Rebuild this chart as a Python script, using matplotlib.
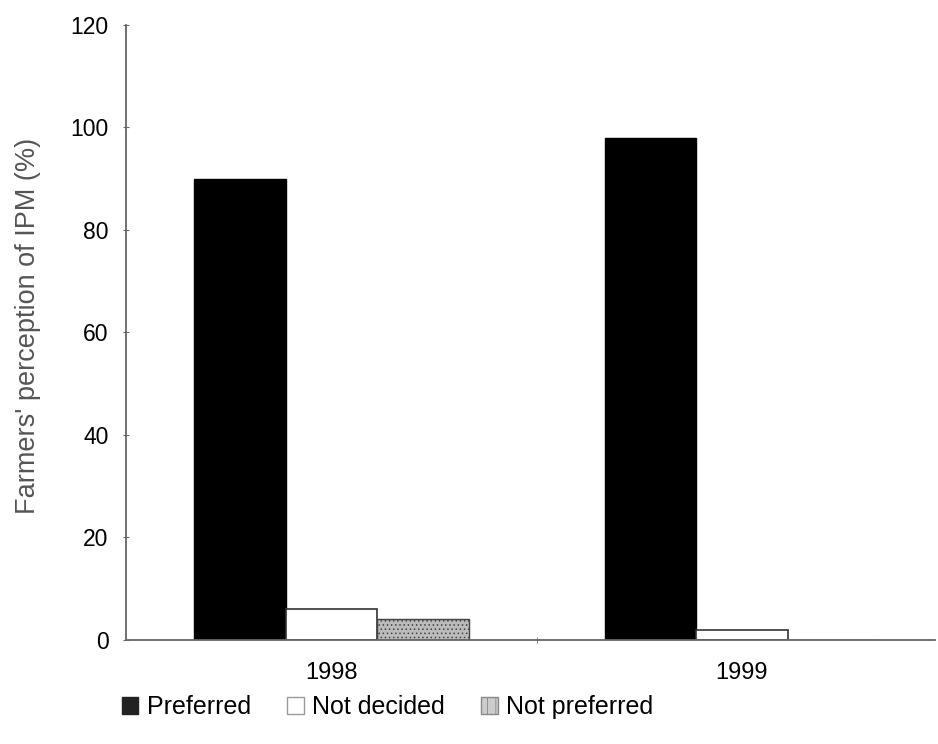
import matplotlib
matplotlib.use("Agg")
import matplotlib.pyplot as plt
import numpy as np
from matplotlib.patches import Patch

plt.rcParams['font.family'] = ['Liberation Sans', 'DejaVu Sans']
plt.rcParams['hatch.linewidth'] = 0.6

years = ['1998', '1999']
series = ['Preferred', 'Not decided', 'Not preferred']
preferred = [90, 98]
not_decided = [6, 2]
not_preferred = [4, 0]
yticks = [0, 20, 40, 60, 80, 100, 120]

fig = plt.figure(figsize=(9.38, 7.44), dpi=100)
ax = fig.add_axes([0.1343, 0.1398, 0.8625, 0.8266])

x = np.arange(len(years))
w = 0.223
styles = [
    dict(color='black', edgecolor='black'),
    dict(color='white', edgecolor='#333333', linewidth=1.2),
    dict(color='#bbbbbb', edgecolor='#444444', hatch='....', linewidth=1.0),
]
vals = [preferred, not_decided, not_preferred]
for i, (v, st) in enumerate(zip(vals, styles)):
    ax.bar(x + (i - 1) * w, v, width=w, **st)

ax.set_xlim(-0.5, 1.47)
ax.set_ylim(0, 120)
ax.set_yticks(yticks)
ax.set_xticks(x)
ax.set_xticklabels(years)
ax.set_xticks([0.5], minor=True)
ax.tick_params(axis='x', which='major', length=0, pad=16, labelsize=17)
ax.tick_params(axis='x', which='minor', length=5, direction='inout', color='#666666')
ax.tick_params(axis='y', length=5, direction='inout', color='#666666', labelsize=16.5, pad=10)
for s in ['top', 'right']:
    ax.spines[s].set_visible(False)
for s in ['left', 'bottom']:
    ax.spines[s].set_color('#666666')
    ax.spines[s].set_linewidth(1.3)

ax.set_ylabel("Farmers' perception of IPM (%)", fontsize=19.5, color='#555555')
ax.yaxis.set_label_coords(-0.105, 0.51)

handles = [
    Patch(facecolor='#222222', edgecolor='#222222'),
    Patch(facecolor='white', edgecolor='#999999'),
    Patch(facecolor='#cccccc', edgecolor='#888888', hatch='||'),
]
fig.legend(handles, series, loc='lower left', bbox_to_anchor=(0.106, 0.003), ncol=3,
           frameon=False, fontsize=18, handlelength=0.65, handleheight=0.65,
           handletextpad=0.35, columnspacing=1.45)

fig.savefig('out.png', dpi=100)
